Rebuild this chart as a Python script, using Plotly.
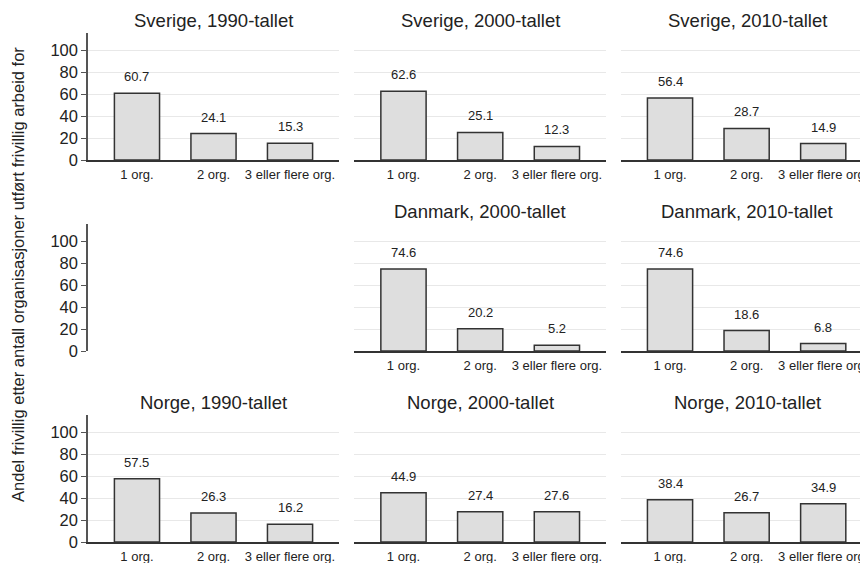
import plotly.graph_objects as go

categories = ["1 org.", "2 org.", "3 eller flere org."]

titles = [
    ["Sverige, 1990-tallet", "Sverige, 2000-tallet", "Sverige, 2010-tallet"],
    [None, "Danmark, 2000-tallet", "Danmark, 2010-tallet"],
    ["Norge, 1990-tallet", "Norge, 2000-tallet", "Norge, 2010-tallet"],
]

sverige_1990 = [60.7, 24.1, 15.3]
sverige_2000 = [62.6, 25.1, 12.3]
sverige_2010 = [56.4, 28.7, 14.9]
danmark_2000 = [74.6, 20.2, 5.2]
danmark_2010 = [74.6, 18.6, 6.8]
norge_1990 = [57.5, 26.3, 16.2]
norge_2000 = [44.9, 27.4, 27.6]
norge_2010 = [38.4, 26.7, 34.9]

values = [
    [sverige_1990, sverige_2000, sverige_2010],
    [None, danmark_2000, danmark_2010],
    [norge_1990, norge_2000, norge_2010],
]

y_ticks = [0, 20, 40, 60, 80, 100]
y_title = "Andel frivillig etter antall organisasjoner utført frivillig arbeid for"

W, H = 868, 563
FONT = "Liberation Sans, Arial, sans-serif"
TXT = "#222222"

# pixel layout (figure coordinates; page body adds an 8px offset)
col_px = [(80, 331), (346, 598), (613, 865)]
row_px = [(25, 152), (216, 343), (407, 534)]
x_ranges = [[-0.64, 2.64], [-0.645, 2.64], [-0.64, 2.65]]
y_range = [0, 115.5]

fig = go.Figure()
layout = dict(
    template="none",
    width=W, height=H,
    margin=dict(l=0, r=0, t=0, b=0, autoexpand=False),
    paper_bgcolor="white", plot_bgcolor="white",
    showlegend=False,
    font=dict(family=FONT, color=TXT),
    annotations=[],
)

idx = 0
for r in range(3):
    for c in range(3):
        idx += 1
        xa = "x" if idx == 1 else f"x{idx}"
        ya = "y" if idx == 1 else f"y{idx}"
        xkey = "xaxis" if idx == 1 else f"xaxis{idx}"
        ykey = "yaxis" if idx == 1 else f"yaxis{idx}"
        x0, x1 = col_px[c]
        top, bot = row_px[r]
        xdom = [x0 / W, x1 / W]
        ydom = [1 - bot / H, 1 - top / H]
        vals = values[r][c]
        empty = vals is None

        if empty:
            fig.add_trace(go.Scatter(x=[], y=[], xaxis=xa, yaxis=ya, hoverinfo="skip"))
        else:
            fig.add_trace(go.Bar(
                x=categories, y=vals, xaxis=xa, yaxis=ya,
                width=0.59,
                marker=dict(color="#dedede", line=dict(color="#333333", width=1.5)),
                hoverinfo="skip",
            ))
            for cat, v in zip(categories, vals):
                layout["annotations"].append(dict(
                    x=cat, y=v, xref=xa, yref=ya,
                    text=f"{v:.1f}", showarrow=False,
                    yanchor="bottom", yshift=7,
                    font=dict(size=13, color=TXT, family=FONT),
                ))
            layout["annotations"].append(dict(
                x=(x0 + x1) / 2 / W, y=1 - top / H, xref="paper", yref="paper",
                text=titles[r][c], showarrow=False,
                xanchor="center", yanchor="middle", yshift=13,
                font=dict(size=18.5, color=TXT, family=FONT),
            ))

        layout[xkey] = dict(
            domain=xdom, anchor=ya, automargin=False,
            type="category", categoryorder="array", categoryarray=categories,
            range=x_ranges[c],
            showline=not empty, linecolor="#333333", linewidth=1.5,
            showticklabels=not empty, ticks="",
            tickfont=dict(size=13, color=TXT, family=FONT),
            ticklabelstandoff=2,
            showgrid=False, zeroline=False, fixedrange=True,
        )
        layout[ykey] = dict(
            domain=ydom, anchor=xa, automargin=False,
            range=y_range, tickvals=y_ticks,
            showgrid=not empty, gridcolor="#e8e8e8", gridwidth=1,
            zeroline=False,
            showline=(c == 0), linecolor="#555555", linewidth=1.5,
            ticks="outside" if c == 0 else "", ticklen=5, tickcolor="#555555", tickwidth=1.2,
            showticklabels=(c == 0),
            tickfont=dict(size=16.5, color=TXT, family=FONT),
            fixedrange=True,
        )

layout["annotations"].append(dict(
    x=10 / W, y=1 - 267 / H, xref="paper", yref="paper",
    text=y_title, showarrow=False, textangle=-90,
    xanchor="center", yanchor="middle",
    font=dict(size=16.5, color=TXT, family=FONT),
))

fig.update_layout(**layout)
fig.write_html("out.html")
